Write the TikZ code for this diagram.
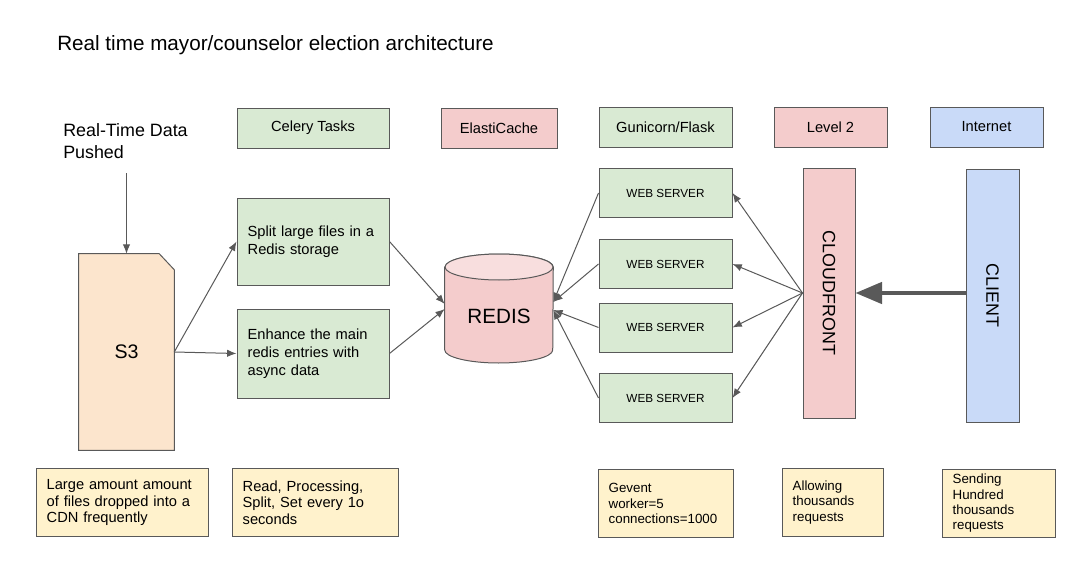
\documentclass[tikz,border=0pt]{standalone}
\usepackage{fontspec}
\setmainfont{Liberation Sans}
\usetikzlibrary{arrows.meta}
\pgfdeclarelayer{edgelayer}
\pgfdeclarelayer{nodelayer}
\pgfsetlayers{edgelayer,nodelayer,main}
\definecolor{edgegray}{RGB}{89,89,89}
\definecolor{taskgreen}{HTML}{D9EAD3}
\definecolor{awspink}{HTML}{F4CCCC}
\definecolor{bucketorange}{HTML}{FCE5CD}
\definecolor{netblue}{HTML}{C9DAF8}
\definecolor{noteyellow}{HTML}{FFF2CC}
\tikzstyle{plain}=[inner sep=0pt]
\tikzstyle{tag}=[rectangle,draw=edgegray,line width=0.75pt,minimum height=30pt,inner sep=0pt,font=\fontsize{11}{13}\selectfont]
\tikzstyle{task}=[rectangle,fill=taskgreen,draw=edgegray,line width=0.75pt,text width=98pt,inner xsep=8pt,align=left,font=\fontsize{11}{13.5}\selectfont]
\tikzstyle{server}=[rectangle,fill=taskgreen,draw=edgegray,line width=0.75pt,minimum width=99.75pt,minimum height=36.75pt,font=\fontsize{8.8}{10}\selectfont]
\tikzstyle{column}=[rectangle,draw=edgegray,line width=0.75pt,inner sep=0pt,font=\fontsize{13.4}{15}\selectfont]
\tikzstyle{note}=[rectangle,fill=noteyellow,draw=edgegray,line width=0.75pt,align=left,inner xsep=8pt,minimum height=51pt]
\tikzstyle{bucket}=[fill=bucketorange,draw=edgegray,line width=0.75pt]
\tikzstyle{cache}=[fill=awspink,draw=edgegray,line width=0.75pt]
\tikzstyle{flow}=[-{Latex[length=7pt,width=5.5pt]},draw=edgegray,line width=0.75pt]
\tikzstyle{push}=[-{Triangle[length=20pt,width=16pt]},draw=edgegray,line width=3pt]

\begin{document}
\begin{tikzpicture}[x=0.75pt,y=-0.75pt]
	\useasboundingbox (0,0) rectangle (1072,571);
	\begin{pgfonlayer}{nodelayer}
		\node [style=plain, anchor=west, font=\fontsize{15.5}{18}\selectfont] (21) at (57, 45) {Real time mayor/counselor election architecture};
		\node [style=plain, anchor=west, align=left, font=\fontsize{13.4}{16.5}\selectfont] (1) at (63, 141) {Real-Time Data\\Pushed};
		\node [style=plain, minimum width=71.25pt, minimum height=147pt, font=\fontsize{14.7}{17}\selectfont] (0) at (126.5, 352) {S3};
		\node [style=tag, fill=taskgreen, minimum width=114pt] (2) at (313, 128) {Celery Tasks};
		\node [style=task, minimum height=65.25pt] (3) at (313, 241.5) {Split large files in a\\Redis storage};
		\node [style=task, minimum height=66.75pt] (4) at (313, 353.5) {Enhance the main\\redis entries with\\async data};
		\node [style=tag, fill=awspink, minimum width=87pt] (5) at (499, 128) {ElastiCache};
		\node [style=plain, minimum width=81pt, minimum height=40pt, font=\fontsize{15.5}{18}\selectfont] (7) at (499, 316) {REDIS};
		\node [style=tag, fill=taskgreen, minimum width=99.75pt] (6) at (665.5, 127) {Gunicorn/Flask};
		\node [style=server] (8) at (665.5, 193) {WEB SERVER};
		\node [style=server] (9) at (665.5, 264) {WEB SERVER};
		\node [style=server] (10) at (665.5, 327.5) {WEB SERVER};
		\node [style=server] (11) at (665.5, 398) {WEB SERVER};
		\node [style=tag, fill=awspink, minimum width=84.75pt] (12) at (830.5, 127) {Level 2};
		\node [style=tag, fill=netblue, minimum width=84.75pt] (13) at (986.5, 127) {Internet};
		\node [style=column, fill=awspink, minimum width=39pt, minimum height=187.5pt] (14) at (829, 293) {\rotatebox{-90}{CLOUDFRONT}};
		\node [style=column, fill=netblue, minimum width=39.75pt, minimum height=189.75pt] (15) at (992.5, 295.5) {\rotatebox{-90}{CLIENT}};
		\node [style=note, text width=113pt, font=\fontsize{11}{12.4}\selectfont] (16) at (122, 502.5) {Large amount amount\\of files dropped into a\\CDN frequently};
		\node [style=note, text width=108.5pt, font=\fontsize{11}{12.4}\selectfont] (17) at (315, 502.5) {Read, Processing,\\Split, Set every 1o\\seconds};
		\node [style=note, text width=85.25pt, font=\fontsize{10}{11.5}\selectfont] (18) at (665.5, 503.5) {Gevent\\worker=5\\connections=1000};
		\node [style=note, text width=59.75pt, font=\fontsize{10}{11.5}\selectfont] (19) at (832.5, 502.5) {Allowing\\thousands\\requests};
		\node [style=note, text width=68.75pt, font=\fontsize{10}{11.5}\selectfont] (20) at (998.5, 503.5) {Sending\\Hundred\\thousands\\requests};
	\end{pgfonlayer}
	\begin{pgfonlayer}{edgelayer}
		\draw [style=bucket] (0.north west) -- ([xshift=-11.25pt]0.north east) -- ([yshift=-12pt]0.north east) -- (0.south east) -- (0.south west) -- cycle;
		\draw [style=cache] ([yshift=36.75pt]7.west) -- ([yshift=-25.5pt]7.west) arc (180:360:40.5pt and 9.75pt) -- ([yshift=36.75pt]7.east) arc (0:180:40.5pt and 9.75pt) -- cycle;
		\draw [style=cache, fill=awspink!65!white] ([yshift=36.75pt]7.center) ellipse (40.5pt and 9.75pt);
		\draw [style=flow, shorten <=11pt] (1.south -| 0.north) to (0.north);
		\draw [style=flow] (0.east) to (3.west);
		\draw [style=flow] (0.east) to (4.west);
		\draw [style=flow] (3.east) to ([yshift=9pt]7.west);
		\draw [style=flow] (4.east) to ([yshift=5.25pt]7.west);
		\draw [style=flow] (8.west) to ([yshift=10.5pt]7.east);
		\draw [style=flow] (9.west) to ([yshift=10.5pt]7.east);
		\draw [style=flow] (10.west) to ([yshift=4.5pt]7.east);
		\draw [style=flow] (11.west) to ([yshift=4.5pt]7.east);
		\draw [style=flow] (14.west) to (8.east);
		\draw [style=flow] (14.west) to (9.east);
		\draw [style=flow] (14.west) to (10.east);
		\draw [style=flow] (14.west) to (11.east);
		\draw [style=push] (15.west |- 14.east) to (14.east);
	\end{pgfonlayer}
\end{tikzpicture}
\end{document}
